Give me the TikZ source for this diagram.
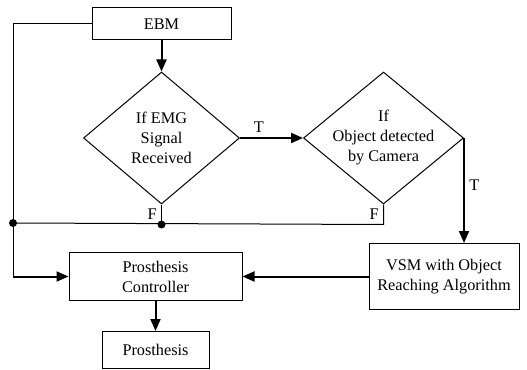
\documentclass[tikz,border=0pt]{standalone}
\usepackage{fontspec}
\setmainfont{Liberation Serif}
\usetikzlibrary{arrows.meta, positioning, shapes.geometric}

\begin{document}
\begin{tikzpicture}[
  font=\fontsize{12.2}{15}\selectfont,
  box/.style={draw, line width=0.75pt, align=center, inner sep=2pt},
  dec/.style={draw, diamond, line width=0.75pt, inner sep=0pt, minimum width=117pt, minimum height=99pt},
  arr/.style={line width=1.5pt, -{Triangle[length=9pt, width=7.5pt]}},
  wire/.style={line width=0.75pt},
  dot/.style={circle, fill, inner sep=0pt, minimum size=6pt}
]
\useasboundingbox (0,0) rectangle (395.25pt,-277.5pt);

\node[box, minimum width=104.25pt, minimum height=24pt] (ebm) at (121.125pt,-18pt) {EBM};
\node[dec, below=23.25pt of ebm] (d1) {};
\node[align=center] (d1txt) at (d1) {If EMG\\Signal\\Received};
\node[dec, right=47.25pt of d1, minimum width=120pt] (d2) {};
\node[align=center] (d2txt) at (d2) {If\\Object detected\\by Camera};

\node[box, minimum width=112.5pt, minimum height=49.5pt, below=78.75pt of d2.east, xshift=-15pt] (vsm) {VSM with Object\\Reaching Algorithm};
\node[box, minimum width=129.75pt, minimum height=36pt, left=94.5pt of vsm] (ctl) {Prosthesis\\Controller};
\node[box, minimum width=80.25pt, minimum height=27.75pt, below=22.5pt of ctl] (pro) {Prosthesis};

% junctions of the F line
\coordinate[below=15pt of d1.south] (j2);
\coordinate (j1) at (9.75pt,-167.25pt);
\coordinate (j3) at (d2.south |- j2);
\coordinate (c1) at (ctl.west -| j1);

\draw[arr] (ebm) -- (d1);
\draw[arr] (d1) -- node[above, pos=0.3] (t1) {T} (d2);
\draw[arr] (d2.east) -- node[right, pos=0.45] (t2) {T} (d2.east |- vsm.north);
\draw[wire] (d1.south) -- node[left] (f1) {F} (j2);
\draw[wire] (d2.south) -- node[left] (f2) {F} (j3) -- (j1);
\draw[wire] (ebm.west) -| (c1);
\draw[arr] (c1) -- (ctl);
\draw[arr] (vsm) -- (ctl);
\draw[arr] (ctl) -- (pro);
\node[dot] (dot1) at (j1) {};
\node[dot] (dot2) at (j2) {};
\end{tikzpicture}
\end{document}
